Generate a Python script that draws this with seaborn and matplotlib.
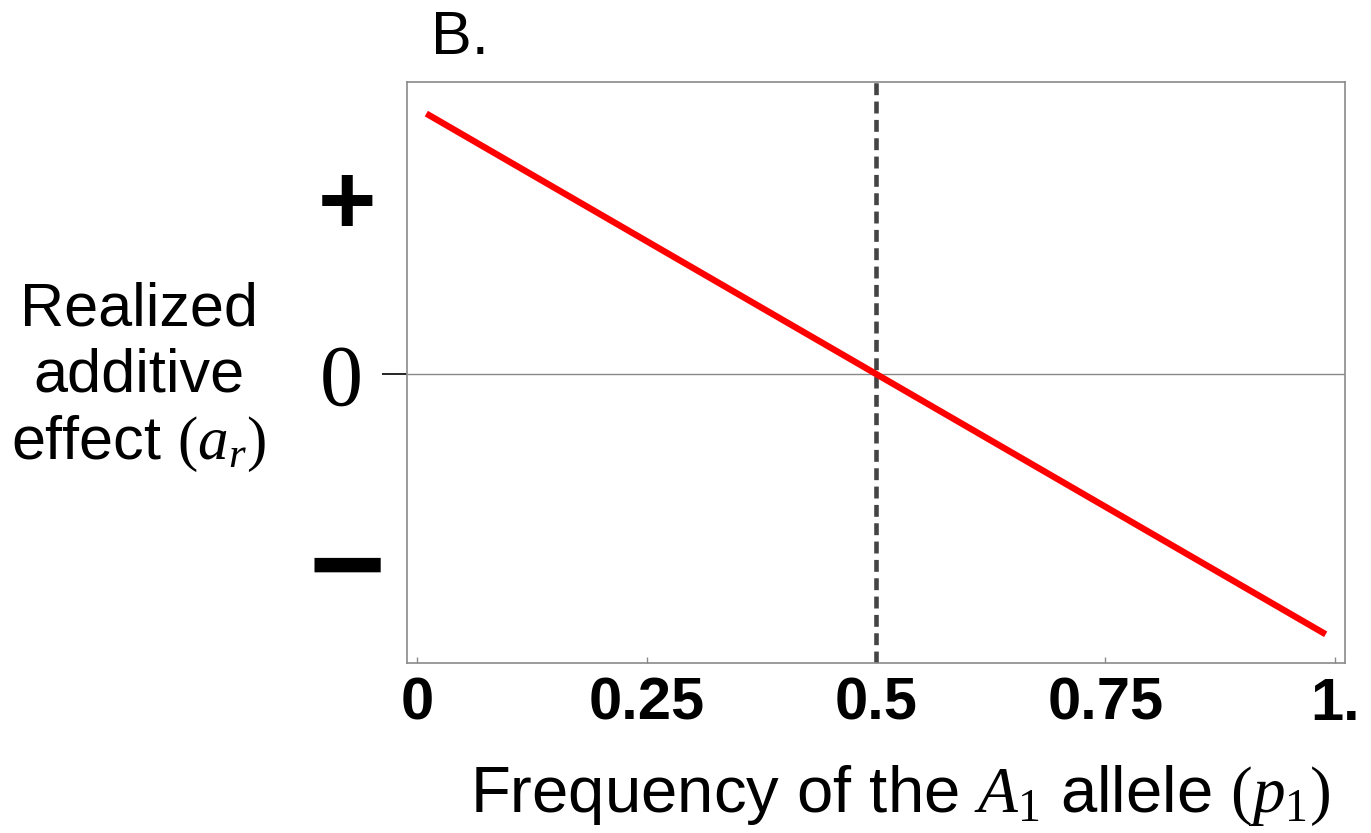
import matplotlib
matplotlib.use("Agg")
import matplotlib.pyplot as plt
import seaborn as sns
import pandas as pd
from matplotlib.transforms import blended_transform_factory

# ---- data ----
p1 = [0.01, 0.99]
a_r = [0.98, -0.98]
x_ticks = [0, 0.25, 0.5, 0.75, 1.0]
x_tick_labels = ["0", "0.25", "0.5", "0.75", "1."]
threshold_p = 0.5
sign_labels = ["+", "\u2212"]
sign_positions = [0.625, -0.755]
sign_sizes = [72, 95]

sns.set_style("white")
plt.rcParams["font.family"] = ["Liberation Sans", "DejaVu Sans"]
plt.rcParams["mathtext.fontset"] = "custom"
plt.rcParams["mathtext.rm"] = "Liberation Serif"
plt.rcParams["mathtext.it"] = "Liberation Serif:italic"
for k in ["text.color", "axes.labelcolor", "xtick.color", "ytick.color"]:
    plt.rcParams[k] = "black"

fig = plt.figure(figsize=(13.71, 8.33), dpi=100)
ax = fig.add_axes([0.2969, 0.2041, 0.6841, 0.6975])

df = pd.DataFrame({"p1": p1, "a_r": a_r})
ax.axhline(0, color="#888888", lw=1.0, zorder=1)
ax.axvline(threshold_p, color="#444444", lw=3.3, ls=(0, (2.6, 1.4)), zorder=2)
sns.lineplot(data=df, x="p1", y="a_r", color="#ff0000", lw=4.6, ax=ax, zorder=3,
             solid_capstyle="butt")

ax.set_xlim(-0.011, 1.011)
ax.set_ylim(-1.088, 1.099)
ax.set_ylabel("")

for s in ax.spines.values():
    s.set_color("#8a8a8a")
    s.set_linewidth(1.2)

ax.set_xticks(x_ticks)
ax.set_xticklabels(x_tick_labels, fontsize=43, fontweight="bold",
                   family=["Liberation Sans"])
ax.tick_params(axis="x", bottom=True, direction="in", length=4, width=1,
               color="#8a8a8a", labelcolor="black", pad=10)

ax.set_yticks([0])
ax.set_yticklabels(["0"], fontsize=62, family=["Liberation Serif"])
ax.tick_params(axis="y", left=True, direction="out", length=18, width=1.2,
               color="black", labelcolor="black", pad=14)

trans = blended_transform_factory(fig.transFigure, ax.transData)
for lab, yv, fs in zip(sign_labels, sign_positions, sign_sizes):
    ax.text(347 / 1371, yv, lab, transform=trans, ha="center", va="center",
            fontsize=fs, fontweight="bold", clip_on=False)

ax.set_xlabel(r"Frequency of the $A_1$ allele $(p_1)$", fontsize=47)
ax.xaxis.set_label_coords((900 - 407) / 938, (663 - 812) / 581, transform=ax.transAxes)
ax.xaxis.label.set_va("baseline")
fig.text(139 / 1371, 1 - 378 / 833, "Realized\nadditive\neffect $(a_r)$",
         ha="center", va="center", fontsize=44, linespacing=1.2)
fig.text(431 / 1371, 1 - 38 / 833, "B.", ha="left", va="center", fontsize=44)

fig.savefig("out.png", dpi=100)
